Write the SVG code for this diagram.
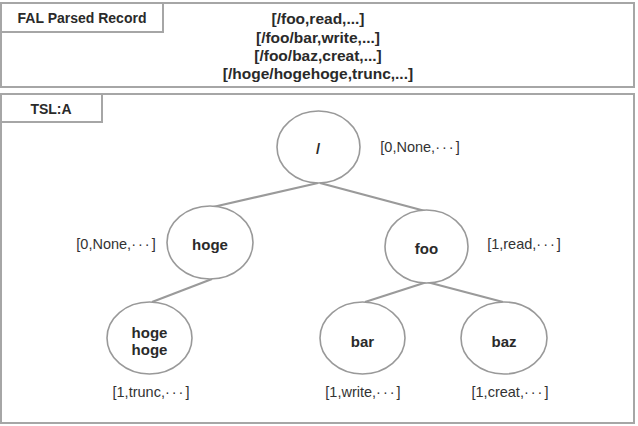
<svg xmlns="http://www.w3.org/2000/svg" width="638" height="426" viewBox="0 0 638 426">
<style>
.box{fill:#fff;stroke:#a6a6a6;stroke-width:2}
.node{fill:#fff;stroke:#999;stroke-width:1.6}
.edge{stroke:#9a9a9a;stroke-width:2.2;fill:none}
.t{font-family:"Liberation Sans",Arial,sans-serif;font-weight:bold;fill:#2a2a2a;text-anchor:middle;dominant-baseline:central}
.lbl{font-family:"Liberation Sans",Arial,sans-serif;font-size:14.5px;fill:#333;text-anchor:middle;dominant-baseline:central}
.dots{letter-spacing:2px}
</style>
<rect width="638" height="426" fill="#fff"/>
<g id="fal-record">
<rect class="box" x="1" y="3" width="633" height="84"/>
<rect class="box" x="1" y="3" width="162" height="29"/>
<text class="t" x="82" y="18" font-size="14">FAL Parsed Record</text>
<text class="t" x="318" y="18" font-size="15.5">[/foo,read,...]</text>
<text class="t" x="318" y="37" font-size="15.5">[/foo/bar,write,...]</text>
<text class="t" x="318" y="55" font-size="15.5">[/foo/baz,creat,...]</text>
<text class="t" x="318" y="73" font-size="15.5">[/hoge/hogehoge,trunc,...]</text>
</g>
<g id="tsl">
<rect class="box" x="1" y="94" width="633" height="329"/>
<rect class="box" x="1" y="94" width="101" height="28"/>
<text class="t" x="51" y="109" font-size="14">TSL:A</text>
</g>
<g id="connectors">
<line class="edge" x1="318" y1="183" x2="213" y2="207"/>
<line class="edge" x1="320" y1="183" x2="425" y2="211"/>
<line class="edge" x1="212" y1="279" x2="152" y2="302"/>
<line class="edge" x1="427" y1="282" x2="365" y2="302"/>
<line class="edge" x1="427" y1="282" x2="503" y2="302"/>
</g>
<g id="node-root">
<ellipse class="node" cx="318.5" cy="147" rx="41.5" ry="36"/>
<text class="t" x="318" y="148" font-size="15" font-weight="normal">/</text>
<text class="lbl" x="420" y="147">[0,None,<tspan class="dots">···</tspan>]</text>
</g>
<g id="node-hoge">
<ellipse class="node" cx="210" cy="242.5" rx="43" ry="36.5"/>
<text class="t" x="210" y="244" font-size="15">hoge</text>
<text class="lbl" x="116" y="244">[0,None,<tspan class="dots">···</tspan>]</text>
</g>
<g id="node-foo">
<ellipse class="node" cx="426.5" cy="246.5" rx="41.5" ry="36.5"/>
<text class="t" x="426.5" y="248" font-size="15">foo</text>
<text class="lbl" x="524" y="244">[1,read,<tspan class="dots">···</tspan>]</text>
</g>
<g id="node-hogehoge">
<ellipse class="node" cx="149.5" cy="338" rx="42.5" ry="36"/>
<text class="t" x="149.5" y="332" font-size="15">hoge</text>
<text class="t" x="149.5" y="349" font-size="15">hoge</text>
<text class="lbl" x="151" y="392">[1,trunc,<tspan class="dots">···</tspan>]</text>
</g>
<g id="node-bar">
<ellipse class="node" cx="362.5" cy="338" rx="42.5" ry="36"/>
<text class="t" x="362.5" y="341" font-size="15">bar</text>
<text class="lbl" x="363" y="392">[1,write,<tspan class="dots">···</tspan>]</text>
</g>
<g id="node-baz">
<ellipse class="node" cx="504" cy="338" rx="43" ry="36"/>
<text class="t" x="504" y="341" font-size="15">baz</text>
<text class="lbl" x="510" y="392">[1,creat,<tspan class="dots">···</tspan>]</text>
</g>
</svg>
